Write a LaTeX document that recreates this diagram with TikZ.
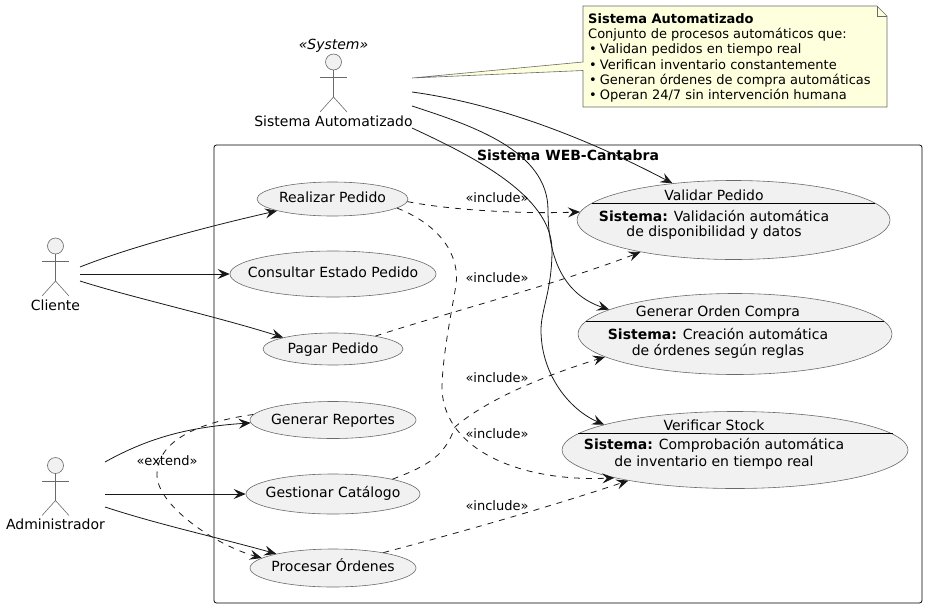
\documentclass[tikz,border=0pt]{standalone}
\usepackage{fontspec}
\setmainfont{DejaVu Sans}
\usepackage{tikz}
\usetikzlibrary{arrows.meta,shapes.geometric}

\definecolor{CaseFill}{HTML}{F1F1F1}
\definecolor{NoteFill}{HTML}{FEFFDD}
\definecolor{LineInk}{HTML}{181818}
\definecolor{ThinInk}{HTML}{6A6A6A}

\newcommand{\CaseText}[2][-3pt]{\raisebox{#1}[0pt][0pt]{\makebox[0pt]{#2}}}

\tikzset{
	usecase/.style={ellipse,draw=ThinInk,fill=CaseFill,line width=0.6pt,inner sep=0pt},
	actorline/.style={draw=ThinInk,line width=0.6pt},
	link/.style={draw=LineInk,line width=0.8pt,-{Stealth[length=12pt,width=10pt,inset=4.5pt]}},
	dashlink/.style={link,dash pattern=on 6pt off 6pt},
	linklabel/.style={font=\fontsize{13}{15}\selectfont}
}

\begin{document}
\begin{tikzpicture}[
		x=1pt,
		y=-1pt,
		every node/.style={font=\fontsize{14}{16}\selectfont,text=black}
		]
		
		\useasboundingbox (0,0) rectangle (928,608);
		
		% System boundary with its title.
		\draw[line width=0.8pt,draw=black,rounded corners=2.5pt] (214,145) rectangle (922,603);
		\node[font=\fontsize{14}{16}\selectfont\bfseries] (boundary) at (568,155) {Sistema WEB-Cantabra};
		
		% The three actors share one stick figure.
		\foreach \ActorName/\ActorX/\ActorY/\ActorText in {
			cliente/55.5/246/Cliente,
			admin/55.5/465.5/Administrador,
			sistema/333.5/62/Sistema Automatizado}
		{
			\node[circle,actorline,fill=CaseFill,minimum size=16pt,inner sep=0pt] (\ActorName Head) at (\ActorX,\ActorY) {};
			\draw[actorline] (\ActorX,\ActorY+8) -- (\ActorX,\ActorY+35);
			\draw[actorline] (\ActorX-13.5,\ActorY+15.5) -- (\ActorX+13.5,\ActorY+15.5);
			\draw[actorline] (\ActorX-13.5,\ActorY+50) -- (\ActorX,\ActorY+35) -- (\ActorX+13.5,\ActorY+50);
			\node (\ActorName) at (\ActorX,\ActorY+59) {\ActorText};
		}
		\node[font=\fontsize{14}{16}\selectfont\itshape] (stereotype) at (333.5,45.5) {«System»};
		
		% Use cases on the left of the boundary.
		\node[usecase,minimum width=151pt,minimum height=34pt] (realizar) at (332.5,199) {\CaseText{Realizar Pedido}};
		\node[usecase,minimum width=206pt,minimum height=46pt] (consultar) at (333,274) {\CaseText{Consultar Estado Pedido}};
		\node[usecase,minimum width=140pt,minimum height=32pt] (pagar) at (333,349) {\CaseText[-4pt]{Pagar Pedido}};
		\node[usecase,minimum width=166pt,minimum height=37pt] (reportes) at (333,420) {\CaseText[-4pt]{Generar Reportes}};
		\node[usecase,minimum width=174pt,minimum height=40pt] (catalogo) at (333,494) {\CaseText{Gestionar Catálogo}};
		\node[usecase,minimum width=166pt,minimum height=38pt] (procesar) at (333,568) {\CaseText{Procesar Órdenes}};
		
		% Use cases of the automated system, each with a title bar.
		\node[usecase,minimum width=313pt,minimum height=79pt] (validar) at (733.5,220) {};
		\draw[line width=0.8pt] (592,203) -- (875,203);
		\node (validarTitle) at (714,195) {Validar Pedido};
		\node (validarA) at (714,216) {\textbf{Sistema:} Validación automática};
		\node (validarB) at (714,233) {de disponibilidad y datos};
		
		\node[usecase,minimum width=314pt,minimum height=81pt] (orden) at (735,334) {};
		\draw[line width=0.8pt] (586,321) -- (884,321);
		\node (ordenTitle) at (718,313) {Generar Orden Compra};
		\node (ordenA) at (718,334) {\textbf{Sistema:} Creación automática};
		\node (ordenB) at (718,351) {de órdenes según reglas};
		
		\node[usecase,minimum width=346pt,minimum height=77pt] (stock) at (735,450) {};
		\draw[line width=0.8pt] (578,433) -- (893,433);
		\node (stockTitle) at (714,425) {Verificar Stock};
		\node (stockA) at (714,445) {\textbf{Sistema:} Comprobación automática};
		\node (stockB) at (714,463) {de inventario en tiempo real};
		
		% Free ends of the connectors beside the actors.
		\coordinate (clienteA) at (80,267);
		\coordinate (clienteB) at (80,274);
		\coordinate (clienteC) at (80,281);
		\coordinate (adminA) at (105,462);
		\coordinate (adminB) at (105,494);
		\coordinate (adminC) at (105,507);
		\coordinate (sistemaA) at (412,92);
		\coordinate (sistemaB) at (412,106);
		\coordinate (sistemaC) at (412,128);
		\coordinate (sistemaNote) at (412,78);
		
		% Note with its folded corner and pointer.
		\filldraw[draw=ThinInk,fill=NoteFill,line width=0.6pt]
		(583,6) -- (877,6) -- (887,16) -- (887,107) -- (583,107) -- (583,70.5)
		-- (sistemaNote) -- (583,62) -- cycle;
		\draw[draw=ThinInk,line width=0.6pt] (877,6) -- (877,16) -- (887,16);
		\node[anchor=north west,inner sep=0pt,align=left,font=\fontsize{13}{15.2}\selectfont] (note) at (588,13.5) {%
			\textbf{Sistema Automatizado}\\
			Conjunto de procesos automáticos que:\\
			\hspace{1pt}•\hspace{3pt}Validan pedidos en tiempo real\\
			\hspace{1pt}•\hspace{3pt}Verifican inventario constantemente\\
			\hspace{1pt}•\hspace{3pt}Generan órdenes de compra automáticas\\
			\hspace{1pt}•\hspace{3pt}Operan 24/7 sin intervención humana};
		
		% Actor connectors.
		\draw[link] (clienteA) .. controls (130,247) and (210,226) .. (realizar.-168);
		\draw[link] (clienteB) -- (consultar);
		\draw[link] (clienteC) .. controls (130,297) and (215,316) .. (pagar.167);
		\draw[link] (adminA) .. controls (150,437) and (190,427) .. (reportes.-178);
		\draw[link] (adminB) -- (catalogo);
		\draw[link] (adminC) .. controls (160,525) and (220,538) .. (procesar.166);
		\draw[link] (sistemaA) .. controls (500,104) and (590,140) .. (validar.149);
		\draw[link] (sistemaB) .. controls (470,125) and (548,150) .. (548,210)
		.. controls (548,260) and (565,295) .. (orden.169);
		\draw[link] (sistemaC) .. controls (470,155) and (552,195) .. (552,250)
		.. controls (552,290) and (541,310) .. (541,330)
		.. controls (541,375) and (570,410) .. (stock.169);
		
		% Dashed relations.
		\draw[dashlink] (realizar.-2) .. controls (450,210) and (520,214) .. (validar.177);
		\draw[dashlink] (pagar.17) .. controls (450,312) and (560,283) .. (validar.-161);
		\draw[dashlink] (catalogo.14) .. controls (430,465) and (445,455) .. (455,427)
		.. controls (480,405) and (530,380) .. (orden.-170);
		\draw[dashlink] (realizar.-8) .. controls (440,225) and (460,255) .. (456,285)
		.. controls (450,320) and (442,360) .. (442,390)
		.. controls (445,450) and (520,482) .. (stock.-167);
		\draw[dashlink] (procesar.17) .. controls (450,535) and (540,510) .. (stock.-164);
		\draw[dashlink] (reportes.176) .. controls (200,422) and (157,440) .. (157,475)
		.. controls (157,505) and (215,545) .. (procesar.172);
		
		% Relation labels.
		\node[linklabel] (labelA) at (497,198) {«include»};
		\node[linklabel] (labelB) at (497,278) {«include»};
		\node[linklabel] (labelC) at (497,378) {«include»};
		\node[linklabel] (labelD) at (497,434) {«include»};
		\node[linklabel] (labelE) at (497,506) {«include»};
		\node[linklabel] (labelF) at (167,461) {«extend»};
		
	\end{tikzpicture}
\end{document}
